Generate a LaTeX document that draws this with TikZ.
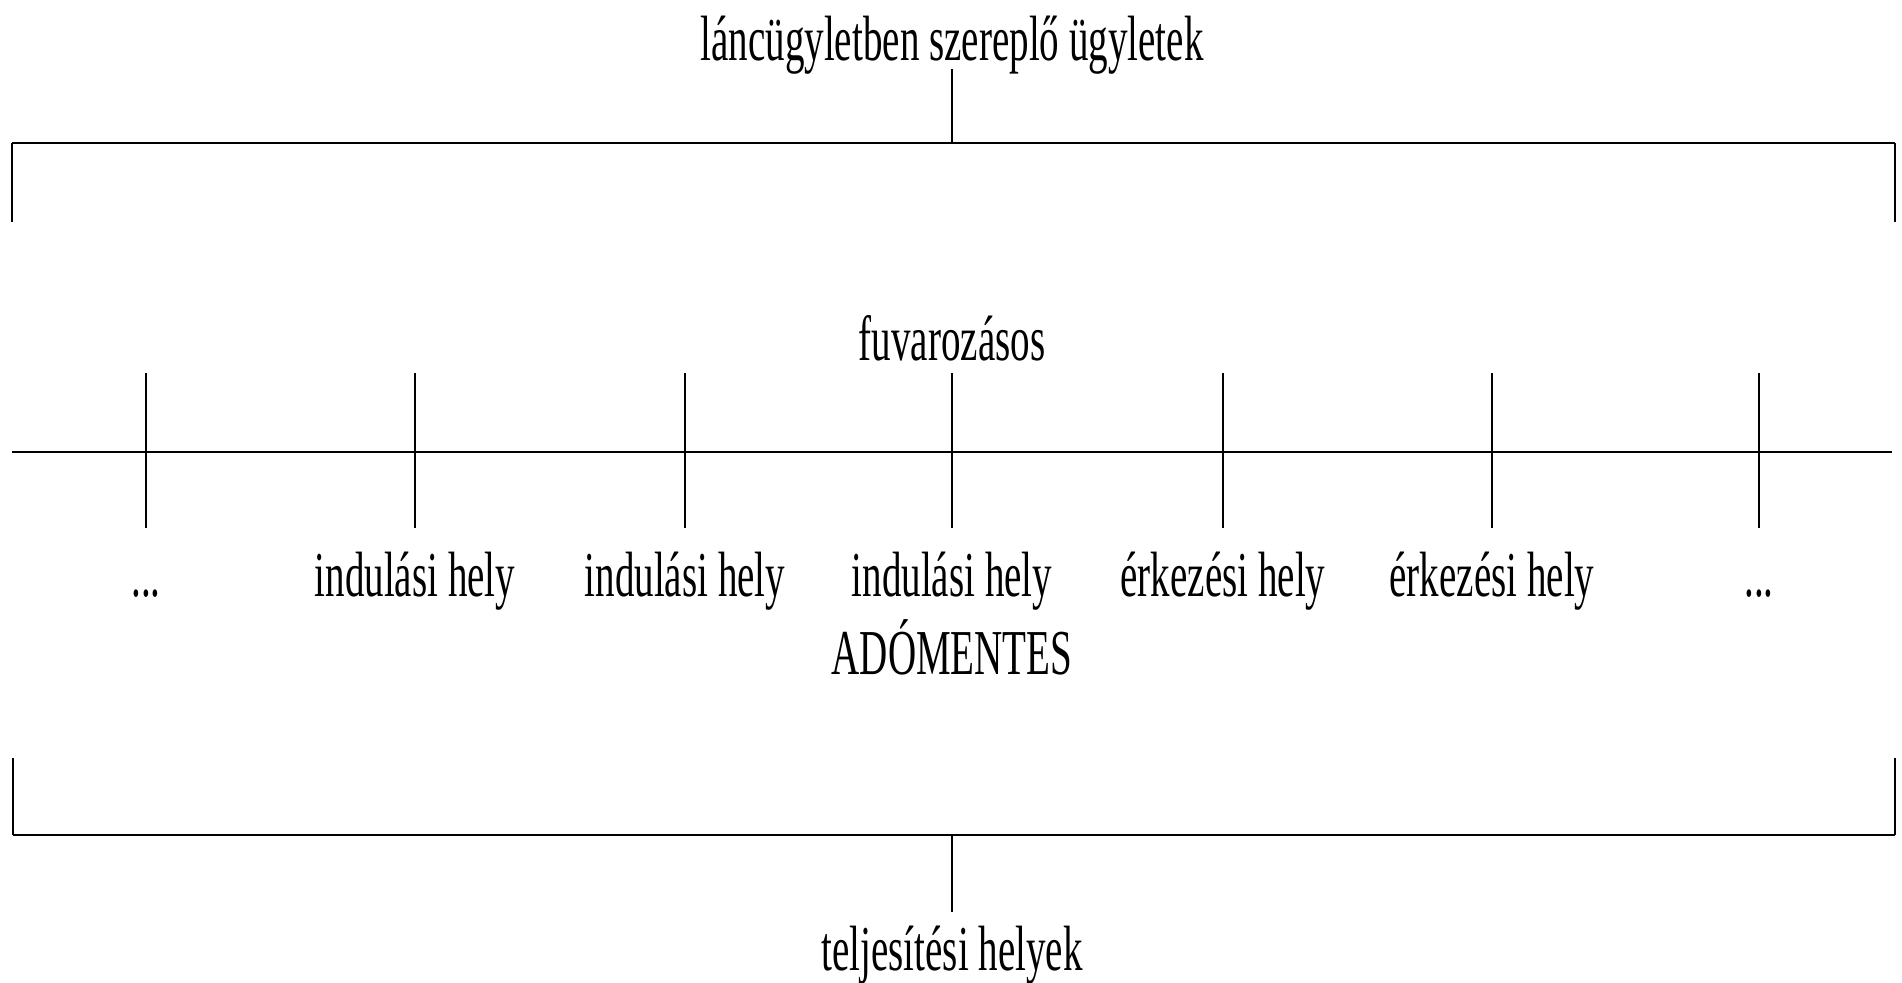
\documentclass[tikz,border=0pt]{standalone}
\usepackage{fontspec}
\usepackage{graphicx}
\setmainfont{Liberation Serif}
\newcommand{\sqz}[1]{\scalebox{0.61}[1]{#1}}
\tikzset{
  lbl/.style={inner sep=0pt, anchor=base, font=\fontsize{64}{70}\selectfont},
  hln/.style={line width=2pt},
  vln/.style={line width=1.5pt}
}
\begin{document}
\begin{tikzpicture}[x=1pt,y=-1pt]
\useasboundingbox (0,0) rectangle (1902,982);
% top
\node[lbl] (title) at (952,60) {\sqz{láncügyletben szereplő ügyletek}};
\coordinate (ts) at (952,69);
\coordinate (tc) at (952,143);
\coordinate (tl) at (12,143);
\coordinate (tr) at (1895,143);
\coordinate (tld) at (12,222);
\coordinate (trd) at (1895,222);
\draw[vln] (ts) -- (tc);
\draw[hln] (tl) -- (tr);
\draw[vln] (tl) -- (tld);
\draw[vln] (tr) -- (trd);
% middle
\node[lbl] (fuv) at (952,360) {\sqz{fuvarozásos}};
\coordinate (ml) at (12,452);
\coordinate (mr) at (1892,452);
\draw[hln] (ml) -- (mr);
\foreach \x/\n in {146/a,415/b,685/c,952/d,1223/e,1492/f,1759/g}{
  \coordinate (u\n) at (\x,373);
  \coordinate (d\n) at (\x,528);
  \draw[vln] (u\n) -- (d\n);
}
\node[lbl] (la) at (146,596) {\sqz{...}};
\node[lbl] (lb) at (415,596) {\sqz{indulási hely}};
\node[lbl] (lc) at (685,596) {\sqz{indulási hely}};
\node[lbl] (ld) at (952,596) {\sqz{indulási hely}};
\node[lbl] (le) at (1223,596) {\sqz{érkezési hely}};
\node[lbl] (lf) at (1492,596) {\sqz{érkezési hely}};
\node[lbl] (lg) at (1759,596) {\sqz{...}};
\node[lbl] (adom) at (952,674) {\sqz{ADÓMENTES}};
% bottom
\coordinate (bl) at (13,835);
\coordinate (br) at (1895,835);
\coordinate (blu) at (13,758);
\coordinate (bru) at (1895,758);
\coordinate (bc) at (952,835);
\coordinate (bs) at (952,912);
\draw[vln] (blu) -- (bl);
\draw[vln] (bru) -- (br);
\draw[hln] (bl) -- (br);
\draw[vln] (bc) -- (bs);
\node[lbl] (telj) at (952,970) {\sqz{teljesítési helyek}};
\end{tikzpicture}
\end{document}
